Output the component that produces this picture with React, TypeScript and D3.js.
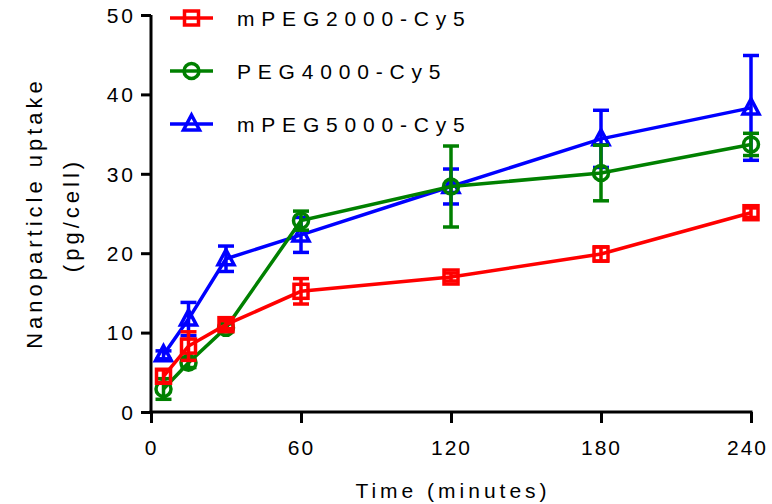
import React, { useEffect, useRef } from 'react';
import * as d3 from 'd3';

// time points (minutes)
const times = [5, 15, 30, 60, 120, 180, 240];
const xTicks = [0, 60, 120, 180, 240];
const yTicks = [0, 10, 20, 30, 40, 50];

// uptake means (pg/cell) and SD
const mpeg2000 = [4.5, 8.3, 11.0, 15.2, 17.0, 19.9, 25.1];
const mpeg2000Err = [0.8, 1.8, 0.5, 1.6, 0.5, 0.9, 0.6];
const peg4000 = [2.9, 6.2, 10.6, 24.1, 28.4, 30.1, 33.7];
const peg4000Err = [1.3, 0.6, 0.5, 1.2, 5.1, 3.5, 1.4];
const mpeg5000 = [7.2, 11.7, 19.3, 22.3, 28.4, 34.4, 38.3];
const mpeg5000Err = [0.5, 2.1, 1.6, 2.2, 2.2, 3.6, 6.6];

const seriesNames = ['mPEG2000-Cy5', 'PEG4000-Cy5', 'mPEG5000-Cy5'];

const App = () => {
  const ref = useRef<SVGSVGElement>(null);

  useEffect(() => {
    const svg = d3.select(ref.current);
    svg.selectAll('*').remove();

    const x = d3.scaleLinear().domain([0, 240]).range([151, 751]);
    const y = d3.scaleLinear().domain([0, 50]).range([412, 15]);

    const font = '"Liberation Sans", Arial, sans-serif';

    const series = [
      { name: seriesNames[0], color: '#ff0000', shape: 'square', vals: mpeg2000, err: mpeg2000Err },
      { name: seriesNames[1], color: '#008000', shape: 'circle', vals: peg4000, err: peg4000Err },
      { name: seriesNames[2], color: '#0000ff', shape: 'triangle', vals: mpeg5000, err: mpeg5000Err },
    ];

    const drawMarker = (g: any, shape: string, cx: number, cy: number, color: string) => {
      if (shape === 'square') {
        g.append('rect')
          .attr('x', cx - 7).attr('y', cy - 7)
          .attr('width', 14).attr('height', 14)
          .attr('fill', 'none').attr('stroke', color).attr('stroke-width', 3.5);
      } else if (shape === 'circle') {
        g.append('circle')
          .attr('cx', cx).attr('cy', cy).attr('r', 7.5)
          .attr('fill', 'none').attr('stroke', color).attr('stroke-width', 3.5);
      } else {
        g.append('path')
          .attr('d', `M${cx},${cy - 9}L${cx + 8},${cy + 6}L${cx - 8},${cy + 6}Z`)
          .attr('fill', 'none').attr('stroke', color).attr('stroke-width', 3.5)
          .attr('stroke-linejoin', 'miter');
      }
    };

    // axes
    const yAxis = svg.append('g')
      .attr('transform', 'translate(151,0)')
      .call(d3.axisLeft(y).tickValues(yTicks).tickSize(10).tickPadding(5).tickSizeOuter(0));
    yAxis.select('.domain').attr('stroke-width', 3).attr('d', `M0,${y(50)}V${y(0) + 1.5}`);
    yAxis.selectAll('.tick line').attr('stroke-width', 3);
    yAxis.selectAll('.tick text')
      .attr('font-family', font).attr('font-size', 21).attr('letter-spacing', 3)
      .attr('fill', '#000').attr('dy', '0.35em');

    const xAxis = svg.append('g')
      .attr('transform', 'translate(0,412)')
      .call(d3.axisBottom(x).tickValues(xTicks).tickSize(11).tickPadding(17).tickSizeOuter(0));
    xAxis.select('.domain').attr('stroke-width', 3).attr('d', `M${x(0) - 1.5},0H${x(240) + 1.5}`);
    xAxis.selectAll('.tick line').attr('stroke-width', 3);
    xAxis.selectAll('.tick text')
      .attr('font-family', font).attr('font-size', 21).attr('letter-spacing', 2)
      .attr('fill', '#000').attr('dy', '0.71em');
    xAxis.selectAll('.tick:last-of-type text').attr('dx', -4);

    // axis titles
    svg.append('text')
      .attr('transform', 'translate(42,213) rotate(-90)')
      .attr('text-anchor', 'middle')
      .attr('font-family', font).attr('font-size', 22).attr('letter-spacing', 4)
      .text('Nanoparticle uptake');
    svg.append('text')
      .attr('transform', 'translate(79,215) rotate(-90)')
      .attr('text-anchor', 'middle')
      .attr('font-family', font).attr('font-size', 22).attr('letter-spacing', 4)
      .text('(pg/cell)');
    svg.append('text')
      .attr('x', 453).attr('y', 498)
      .attr('text-anchor', 'middle')
      .attr('font-family', font).attr('font-size', 21).attr('letter-spacing', 4)
      .text('Time (minutes)');

    // data, drawn bottom-up: blue, green, red
    const line = d3.line<number>().x((d, i) => x(times[i])).y(d => y(d));
    [...series].reverse().forEach(s => {
      const g = svg.append('g');
      g.append('path')
        .attr('d', line(s.vals))
        .attr('fill', 'none').attr('stroke', s.color).attr('stroke-width', 3.5);
      s.vals.forEach((v, i) => {
        const cx = x(times[i]);
        const y1 = y(v + s.err[i]);
        const y2 = y(v - s.err[i]);
        g.append('line').attr('x1', cx).attr('x2', cx).attr('y1', y1).attr('y2', y2)
          .attr('stroke', s.color).attr('stroke-width', 3.5);
        [y1, y2].forEach(yy => {
          g.append('line').attr('x1', cx - 8).attr('x2', cx + 8).attr('y1', yy).attr('y2', yy)
            .attr('stroke', s.color).attr('stroke-width', 3.5);
        });
        drawMarker(g, s.shape, cx, y(v), s.color);
      });
    });

    // legend
    const legendY = [18, 71, 124];
    series.forEach((s, i) => {
      const g = svg.append('g');
      const ly = legendY[i];
      g.append('line').attr('x1', 170).attr('x2', 213).attr('y1', ly).attr('y2', ly)
        .attr('stroke', s.color).attr('stroke-width', 3.5);
      drawMarker(g, s.shape, 191.5, ly, s.color);
      g.append('text')
        .attr('x', 237).attr('y', ly).attr('dy', '0.36em')
        .attr('font-family', font).attr('font-size', 21).attr('letter-spacing', 6.8)
        .text(s.name);
    });
  }, []);

  return <svg ref={ref} width={772} height={504} style={{ display: 'block', position: 'absolute', left: 0, top: 0 }} />;
};

export default App;
